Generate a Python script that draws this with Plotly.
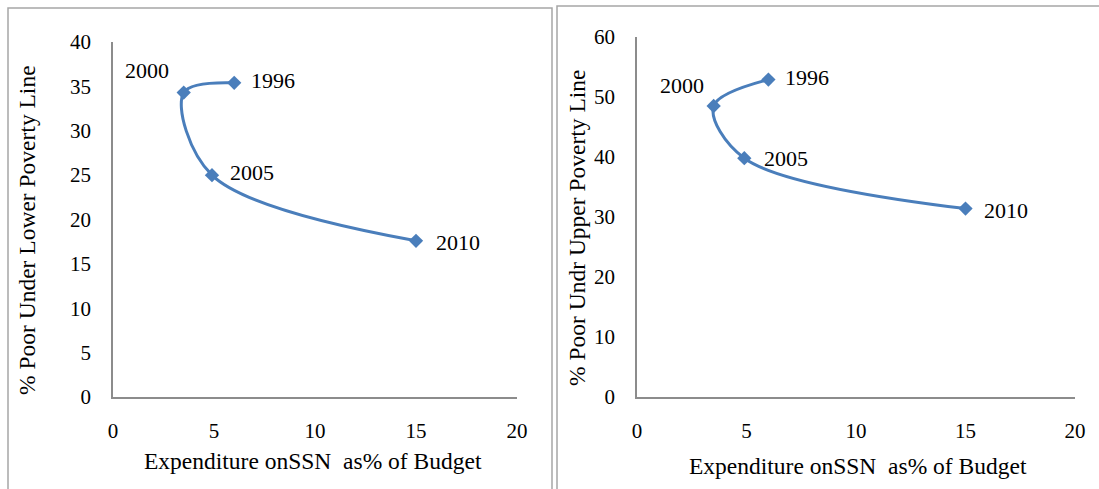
import plotly.graph_objects as go

years = ["1996", "2000", "2005", "2010"]
ssn_exp = [6.0, 3.5, 4.9, 15.0]
poor_lower = [35.4, 34.3, 25.0, 17.6]
poor_upper = [52.9, 48.5, 39.8, 31.4]

W, H = 1099, 489
FONT = "Liberation Serif"
BLUE = "#4A7EBB"
AXIS = "#8C8C8C"
BORDER = "#A6A6A6"

def px(x):
    return x / W

def py(y):
    return (H - y) / H

fig = go.Figure()
for xa, ya, yv in [("x", "y", poor_lower), ("x2", "y2", poor_upper)]:
    fig.add_trace(go.Scatter(
        x=ssn_exp, y=yv, xaxis=xa, yaxis=ya, mode="lines+markers",
        line=dict(color=BLUE, width=3, shape="spline", smoothing=1.0),
        marker=dict(symbol="diamond", size=11, color=BLUE),
        showlegend=False, hoverinfo="skip", cliponaxis=False))

ax_common = dict(showgrid=False, zeroline=False, showline=True, linecolor=AXIS,
                 linewidth=1.5, ticks="", automargin=False,
                 tickfont=dict(family=FONT, size=21, color="#000"))

fig.update_layout(
    width=W, height=H, margin=dict(l=0, r=0, t=0, b=0),
    paper_bgcolor="white", plot_bgcolor="white",
    xaxis=dict(domain=[px(113), px(517)], range=[0, 20], dtick=5, anchor="y",
               ticklabelstandoff=14, **ax_common),
    yaxis=dict(domain=[py(397), py(42)], range=[0, 40], dtick=5, anchor="x",
               ticklabelstandoff=16, **ax_common),
    xaxis2=dict(domain=[px(637), px(1075)], range=[0, 20], dtick=5, anchor="y2",
                ticklabelstandoff=14, **ax_common),
    yaxis2=dict(domain=[py(397), py(37)], range=[0, 60], dtick=10, anchor="x2",
                ticklabelstandoff=16, **ax_common),
)

# panel borders
fig.add_shape(type="rect", xref="paper", yref="paper",
              x0=px(8), x1=px(552), y0=-0.05, y1=py(8),
              line=dict(color=BORDER, width=1.5), layer="below")
fig.add_shape(type="rect", xref="paper", yref="paper",
              x0=px(557), x1=1.05, y0=-0.05, y1=py(6),
              line=dict(color=BORDER, width=1.5), layer="below")

tfont = dict(family=FONT, size=23.5, color="#000")
xtitle = "Expenditure onSSN  as% of Budget"
fig.add_annotation(text=xtitle, xref="paper", yref="paper", x=px(313), y=py(461),
                   showarrow=False, font=tfont, xanchor="center", yanchor="middle")
fig.add_annotation(text=xtitle, xref="paper", yref="paper", x=px(858), y=py(466),
                   showarrow=False, font=tfont, xanchor="center", yanchor="middle")
fig.add_annotation(text="% Poor Under Lower Poverty Line", xref="paper", yref="paper",
                   x=px(27), y=py(230), showarrow=False, font=tfont, textangle=-90,
                   xanchor="center", yanchor="middle")
fig.add_annotation(text="% Poor Undr Upper Poverty Line", xref="paper", yref="paper",
                   x=px(577), y=py(228), showarrow=False, font=tfont, textangle=-90,
                   xanchor="center", yanchor="middle")

lfont = dict(family=FONT, size=22, color="#000")
# label offsets (pixels) per year: (xshift, yshift, xanchor)
offs_left = [(15, 2, "left"), (-13, 22, "right"), (16, 3, "left"), (18, -2, "left")]
offs_right = [(15, 2, "left"), (-8, 20, "right"), (18, 0, "left"), (16, -2, "left")]
for xr, yr, yv, offs in [("x", "y", poor_lower, offs_left), ("x2", "y2", poor_upper, offs_right)]:
    for yr_lbl, xv, v, (dx, dy, anc) in zip(years, ssn_exp, yv, offs):
        fig.add_annotation(text=yr_lbl, x=xv, y=v, xref=xr, yref=yr, showarrow=False,
                           font=lfont, xanchor=anc, yanchor="middle", xshift=dx, yshift=dy)

fig.write_html("out.html", config={"displayModeBar": False},
               post_script="document.body.style.margin='0';document.body.style.overflow='hidden';")
